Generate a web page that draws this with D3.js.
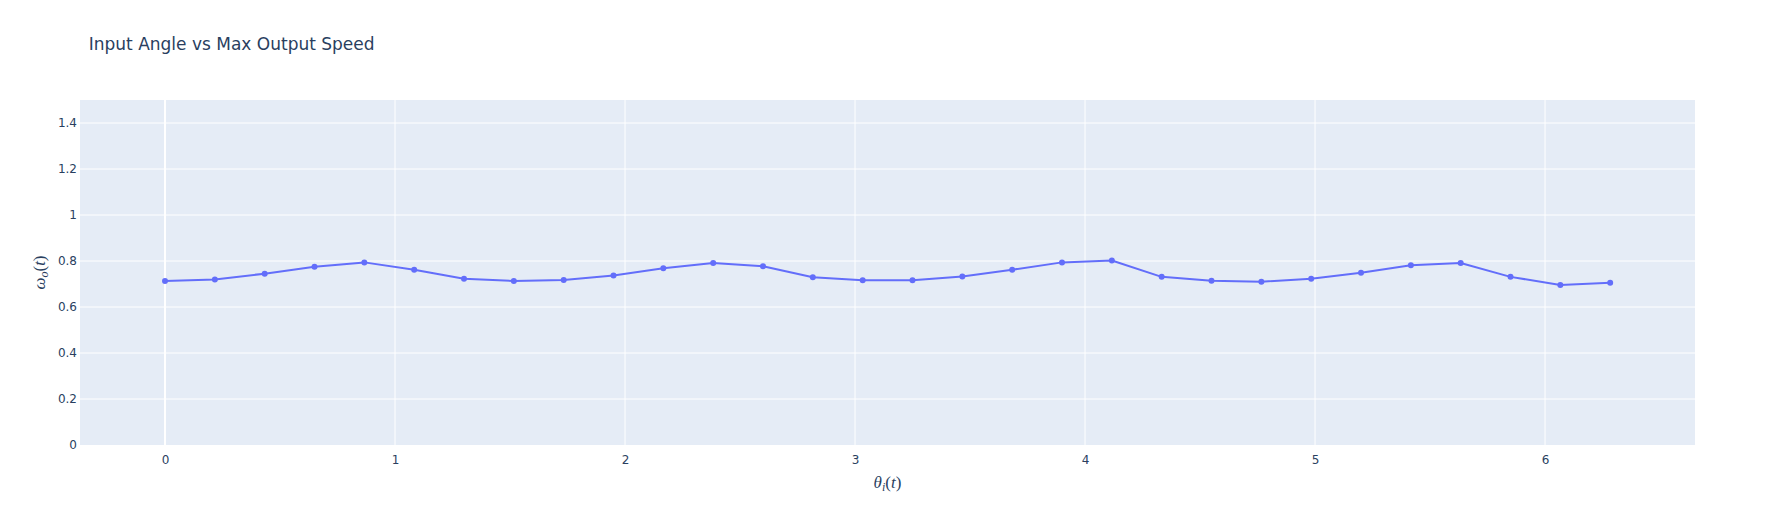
<!DOCTYPE html>
<html>
<head>
<meta charset="utf-8">
<script src="https://cdn.jsdelivr.net/npm/d3@7"></script>
<style>
    html, body { margin: 0; padding: 0; background: #fff; }
    svg { display: block; }
</style>
</head>
<body>
<svg id="svg" width="1775" height="525"></svg>
<script>
// input angle samples (rad)
var thetaValues = [0, 0.2167, 0.4333, 0.6500, 0.8666, 1.0833, 1.3000, 1.5166, 1.7333, 1.9500,
    2.1666, 2.3833, 2.5999, 2.8166, 3.0333, 3.2499, 3.4666, 3.6833, 3.8999, 4.1166,
    4.3332, 4.5499, 4.7666, 4.9832, 5.1999, 5.4166, 5.6332, 5.8499, 6.0665, 6.2832];

// max output speed
var omegaValues = [0.713, 0.720, 0.745, 0.775, 0.794, 0.762, 0.723, 0.713, 0.717, 0.737,
    0.768, 0.791, 0.777, 0.729, 0.716, 0.716, 0.733, 0.762, 0.794, 0.802,
    0.731, 0.714, 0.710, 0.723, 0.749, 0.782, 0.791, 0.731, 0.696, 0.705];

var xTicks = [0, 1, 2, 3, 4, 5, 6];
var yTicks = [0, 0.2, 0.4, 0.6, 0.8, 1, 1.2, 1.4];

var chartTitle = 'Input Angle vs Max Output Speed';

(function() {
    'use strict';

    var width = 1775, height = 525;
    var margin = { top: 100, right: 80, bottom: 80, left: 80 };
    // the reference fell back to a verdana-like face
    var fontFamily = 'verdana, "DejaVu Sans", sans-serif';
    var textColor = '#2a3f5f';

    var svg = d3.select('#svg');

    var data = thetaValues.map(function (t, i) {
        return { x: t, y: omegaValues[i] };
    });

    var x = d3.scaleLinear()
        .domain([-0.3696, 6.652])
        .range([margin.left, width - margin.right]);

    var y = d3.scaleLinear()
        .domain([0, 1.5])
        .range([height - margin.bottom, margin.top]);

    // plot background
    svg.append('rect')
        .attr('x', margin.left)
        .attr('y', margin.top)
        .attr('width', width - margin.left - margin.right)
        .attr('height', height - margin.top - margin.bottom)
        .attr('fill', '#E5ECF6');

    // grid lines
    var grid = svg.append('g');

    grid.selectAll('.xgrid')
        .data(xTicks)
        .enter()
        .append('line')
        .attr('x1', function (d) { return x(d); })
        .attr('x2', function (d) { return x(d); })
        .attr('y1', margin.top)
        .attr('y2', height - margin.bottom)
        .attr('stroke', '#fff')
        .attr('stroke-width', function (d) { return d === 0 ? 2 : 1; });

    grid.selectAll('.ygrid')
        .data(yTicks.filter(function (d) { return d !== 0; }))
        .enter()
        .append('line')
        .attr('x1', margin.left)
        .attr('x2', width - margin.right)
        .attr('y1', function (d) { return y(d); })
        .attr('y2', function (d) { return y(d); })
        .attr('stroke', '#fff')
        .attr('stroke-width', 1);

    // axes, only labels are visible
    var xAxis = svg.append('g')
        .attr('transform', 'translate(0,' + (height - margin.bottom) + ')')
        .call(d3.axisBottom(x).tickValues(xTicks).tickSize(0).tickPadding(10).tickFormat(d3.format('d')));

    var yAxis = svg.append('g')
        .attr('transform', 'translate(' + margin.left + ',0)')
        .call(d3.axisLeft(y).tickValues(yTicks).tickSize(0).tickPadding(3).tickFormat(function (d) { return String(+d.toFixed(1)); }));

    [xAxis, yAxis].forEach(function (a) {
        a.select('.domain').remove();
        a.selectAll('text')
            .attr('fill', textColor)
            .style('font-family', fontFamily)
            .style('font-size', '12px');
    });

    // the series line and markers
    var line = d3.line()
        .x(function (d) { return x(d.x); })
        .y(function (d) { return y(d.y); });

    svg.append('path')
        .datum(data)
        .attr('d', line)
        .attr('fill', 'none')
        .attr('stroke', '#636efa')
        .attr('stroke-width', 2)
        .attr('stroke-linejoin', 'round');

    svg.append('g')
        .selectAll('circle')
        .data(data)
        .enter()
        .append('circle')
        .attr('cx', function (d) { return x(d.x); })
        .attr('cy', function (d) { return y(d.y); })
        .attr('r', 3)
        .attr('fill', '#636efa');

    // title, plotly puts it at 5% of the width
    svg.append('text')
        .attr('x', width * 0.05)
        .attr('y', 50)
        .attr('fill', textColor)
        .style('font-family', fontFamily)
        .style('font-size', '17px')
        .text(chartTitle);

    // math style axis titles
    var mathFont = '"Liberation Serif", "DejaVu Serif", serif';

    var xTitle = svg.append('text')
        .attr('x', (margin.left + width - margin.right) / 2)
        .attr('y', 488)
        .attr('text-anchor', 'middle')
        .attr('fill', textColor)
        .style('font-family', mathFont)
        .style('font-size', '17px');
    xTitle.append('tspan').style('font-style', 'italic').text('θ');
    xTitle.append('tspan').style('font-style', 'italic').style('font-size', '12px').attr('dy', 3).text('i');
    xTitle.append('tspan').attr('dy', -3).text('(');
    xTitle.append('tspan').style('font-style', 'italic').text('t');
    xTitle.append('tspan').text(')');

    var yTitle = svg.append('text')
        .attr('transform', 'translate(45,' + y(0.75) + ') rotate(-90)')
        .attr('text-anchor', 'middle')
        .attr('fill', textColor)
        .style('font-family', mathFont)
        .style('font-size', '17px');
    yTitle.append('tspan').style('font-style', 'italic').text('ω');
    yTitle.append('tspan').style('font-style', 'italic').style('font-size', '12px').attr('dy', 3).text('o');
    yTitle.append('tspan').attr('dy', -3).text('(');
    yTitle.append('tspan').style('font-style', 'italic').text('t');
    yTitle.append('tspan').text(')');
})();
</script>
</body>
</html>
